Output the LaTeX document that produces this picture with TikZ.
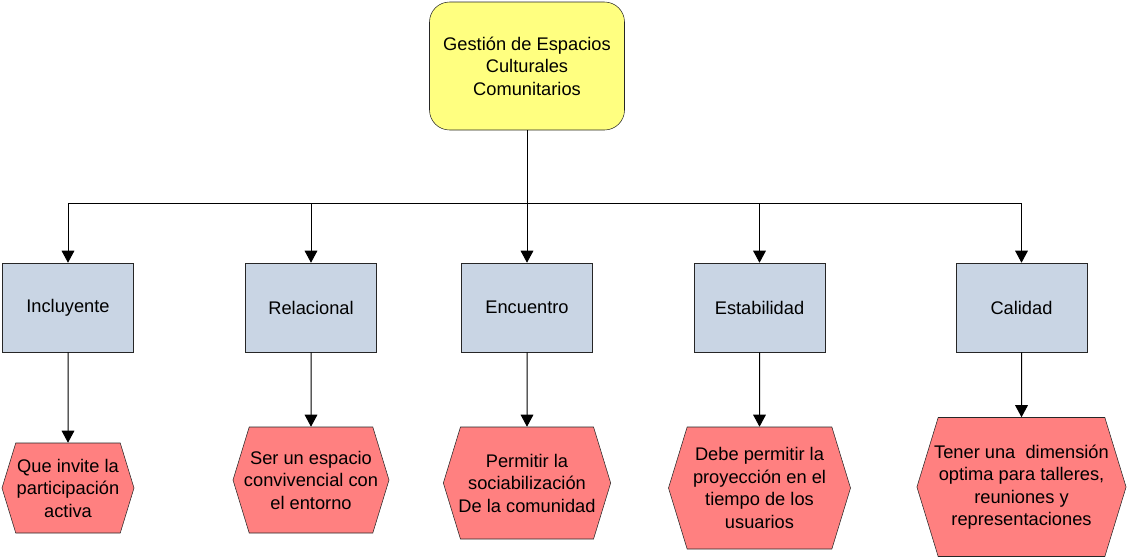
\documentclass[tikz,border=0pt]{standalone}
\usepackage{fontspec}
\setmainfont{Liberation Sans}
\usetikzlibrary{shapes.geometric, shapes.symbols, arrows.meta}
\definecolor{topyellow}{HTML}{FFFF80}
\definecolor{boxblue}{HTML}{C9D5E4}
\definecolor{hexred}{HTML}{FF8080}
\tikzset{arrow/.style = {line width=0.75pt,->,>={Triangle[length=9pt,width=9.5pt]}}}
\tikzset{topbox/.style = {draw=black!85, fill=topyellow, rounded corners=15pt, align=center,
    minimum width=146.25pt, minimum height=96pt, inner sep=0pt}}
\tikzset{aspect/.style = {draw=black!85, fill=boxblue, align=center,
    minimum width=98.25pt, minimum height=66.75pt, inner sep=0pt}}
\tikzset{goal/.style = {draw=black!85, fill=hexred, align=center, signal,
    signal to=west and east, signal pointer angle=146, inner ysep=0pt, inner xsep=-3pt}}

\begin{document}
\begin{tikzpicture}[x=0.75pt, y=-0.75pt, font=\fontsize{13.7}{16.9}\selectfont]
\useasboundingbox (0,0) rectangle (1127,558);

\node[topbox] (gestion) at (527,66) {Gestión de Espacios\\Culturales\\Comunitarios};

\node[aspect] (incluyente) at (68,307.5) {Incluyente};
\node[aspect] (relacional) at (311,307.5) {Relacional};
\node[aspect] (encuentro) at (527,307.5) {Encuentro};
\node[aspect] (estabilidad) at (759.5,307.5) {Estabilidad};
\node[aspect] (calidad) at (1021.5,307.5) {Calidad};

\node[goal, minimum width=99pt, minimum height=67.5pt] (participacion) at (68,488) {Que invite la\\participación\\activa};
\node[goal, minimum width=117pt, minimum height=79.5pt, inner xsep=-4pt] (entorno) at (311,480) {Ser un espacio\\convivencial con\\el entorno};
\node[goal, minimum width=125.25pt, minimum height=84pt, inner xsep=-1.5pt] (comunidad) at (527,483) {Permitir la\\sociabilización\\De la comunidad};
\node[goal, minimum width=136.5pt, minimum height=91.5pt] (usuarios) at (759.5,488) {Debe permitir la\\proyección en el\\tiempo de los\\usuarios};
\node[goal, minimum width=156pt, minimum height=104.25pt] (talleres) at (1021.5,487) {Tener una \ dimensión\\optima para talleres,\\reuniones y\\representaciones};

\coordinate (bus) at (527,203);

\draw[arrow] (gestion.south) -- (bus) -| (incluyente.north);
\draw[arrow] (gestion.south) -- (bus) -| (relacional.north);
\draw[arrow] (gestion.south) -- (encuentro.north);
\draw[arrow] (gestion.south) -- (bus) -| (estabilidad.north);
\draw[arrow] (gestion.south) -- (bus) -| (calidad.north);

\draw[arrow] (incluyente) -- (participacion);
\draw[arrow] (relacional) -- (entorno);
\draw[arrow] (encuentro) -- (comunidad);
\draw[arrow] (estabilidad) -- (usuarios);
\draw[arrow] (calidad) -- (talleres);

\end{tikzpicture}
\end{document}
